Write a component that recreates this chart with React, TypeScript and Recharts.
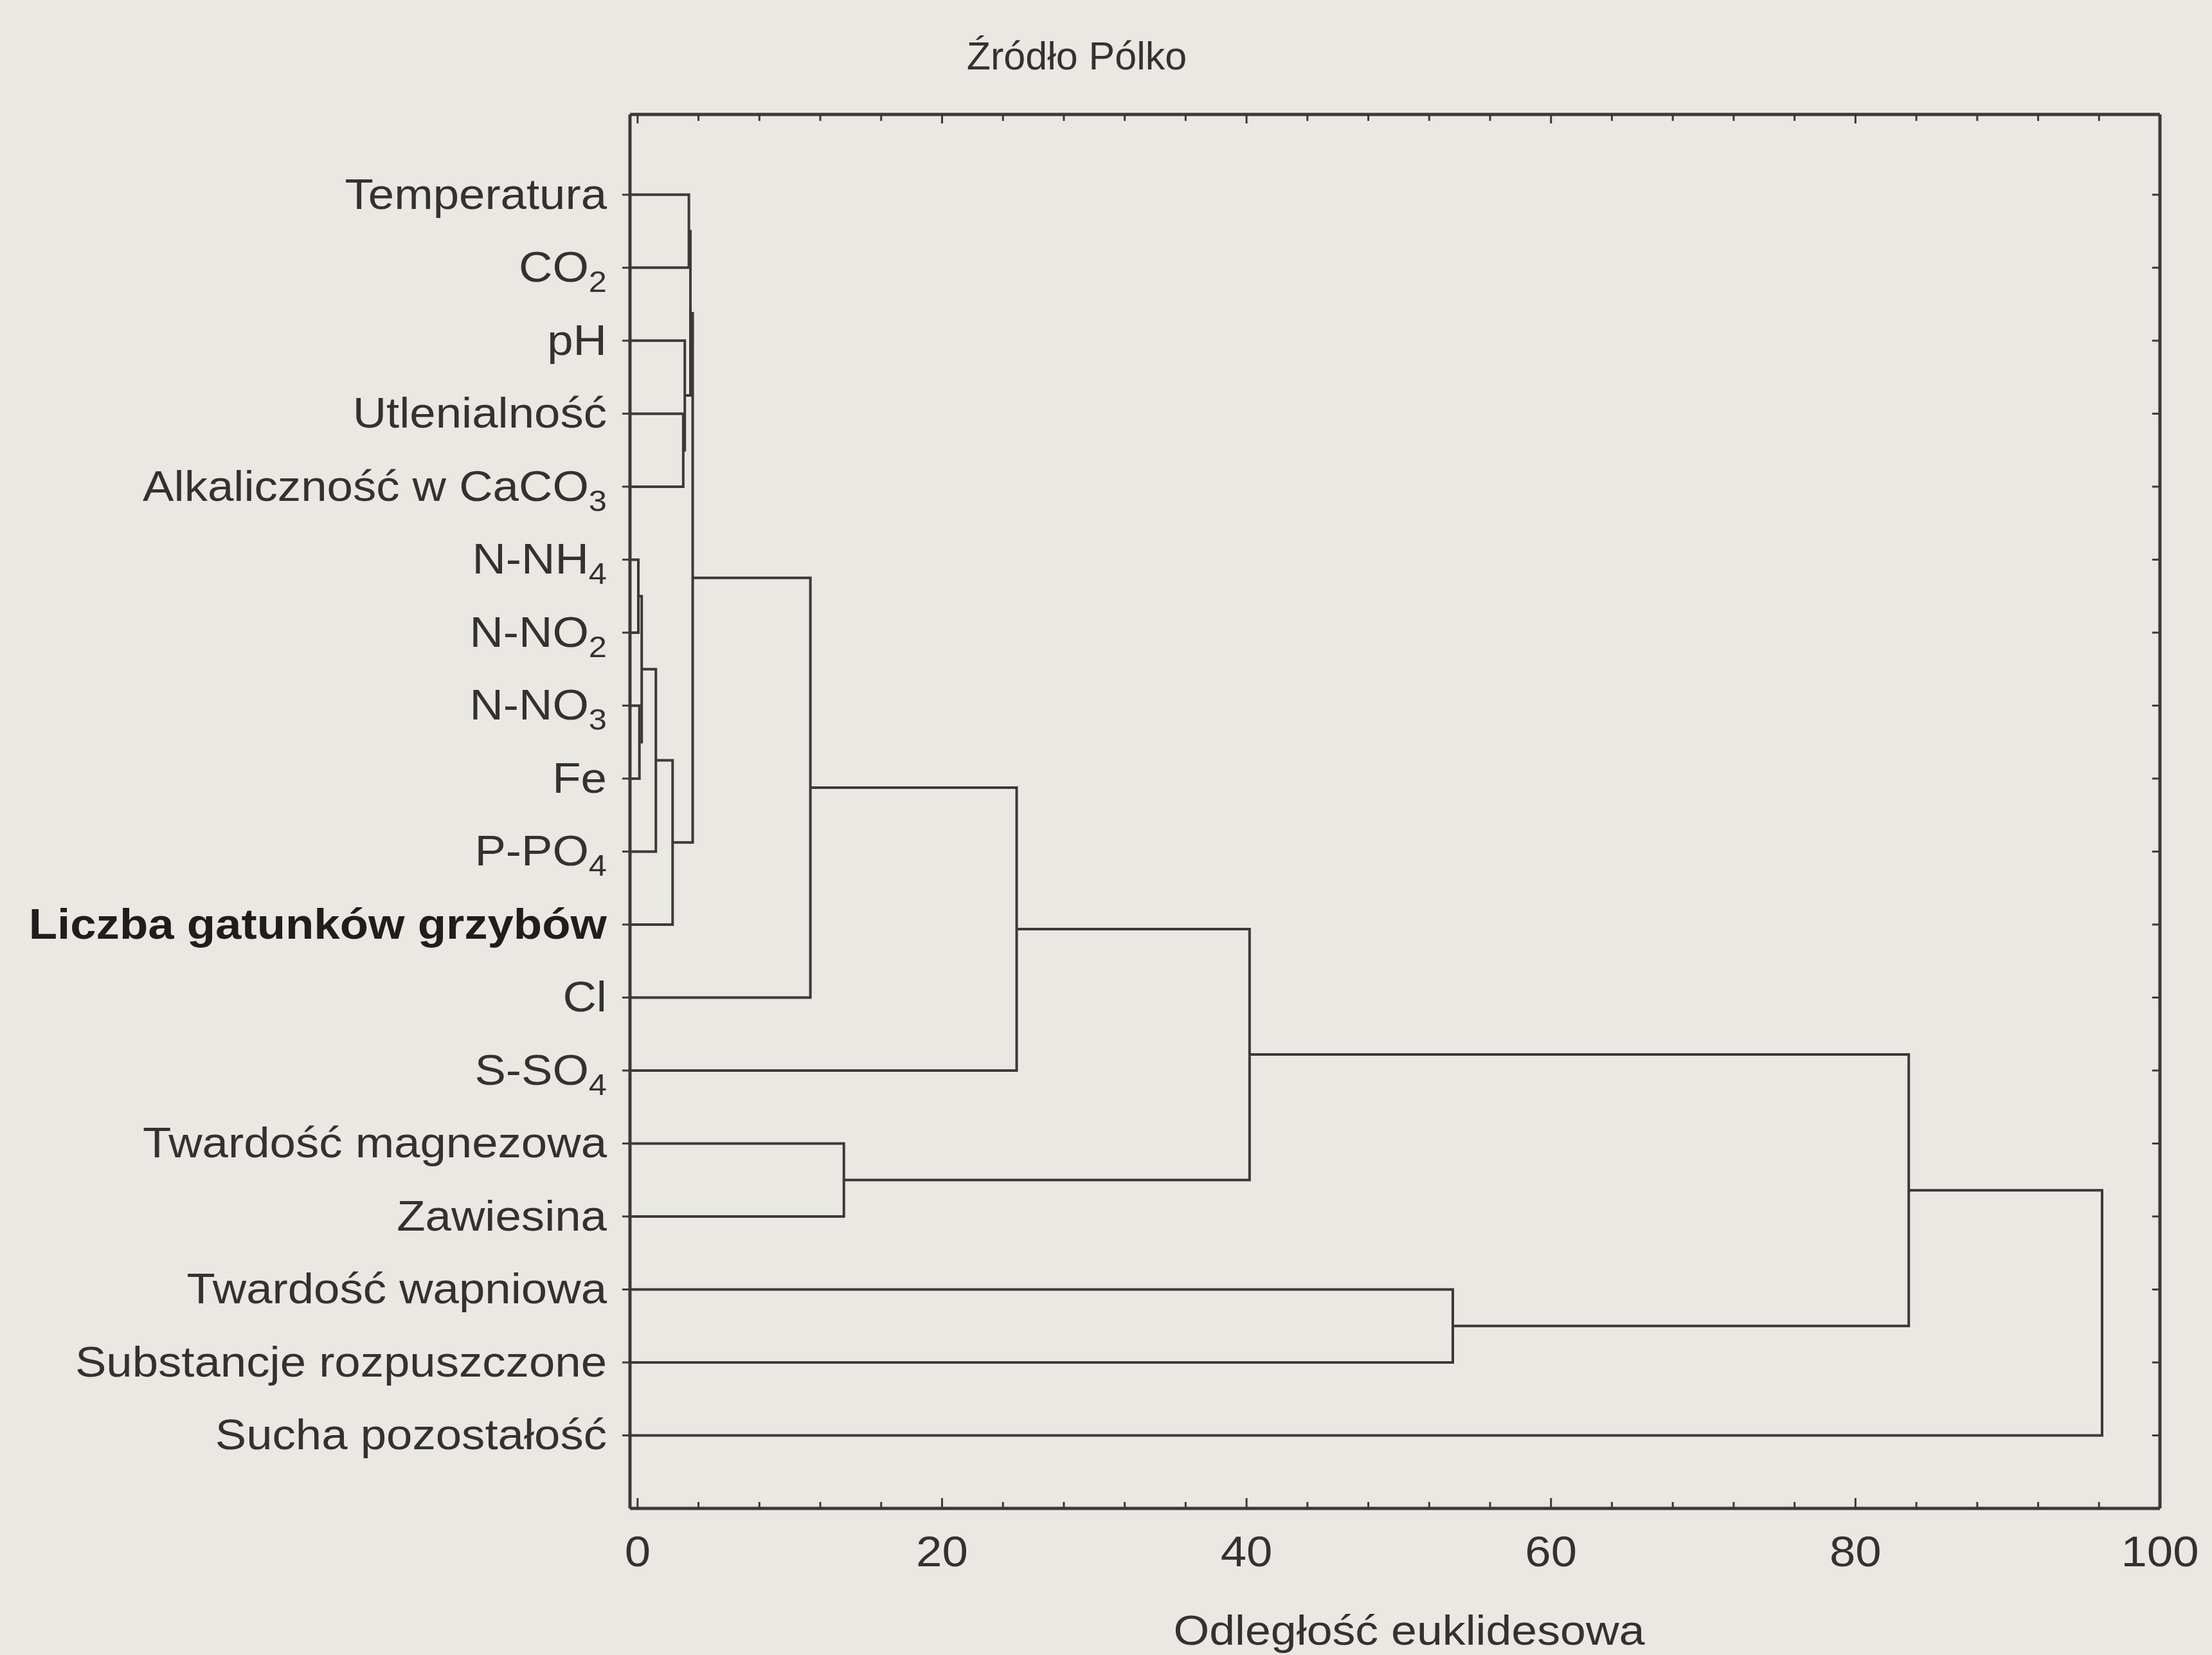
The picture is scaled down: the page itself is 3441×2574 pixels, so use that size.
import React from "react";
import { LineChart, Line, XAxis, YAxis } from "recharts";

// ---------- data ----------
const chartTitle = "Źródło Pólko";
const xAxisTitle = "Odległość euklidesowa";

// leaf labels, top to bottom ("_" marks a subscript)
const leafLabels = [
  "Temperatura",
  "CO_2",
  "pH",
  "Utlenialność",
  "Alkaliczność w CaCO_3",
  "N-NH_4",
  "N-NO_2",
  "N-NO_3",
  "Fe",
  "P-PO_4",
  "Liczba gatunków grzybów",
  "Cl",
  "S-SO_4",
  "Twardość magnezowa",
  "Zawiesina",
  "Twardość wapniowa",
  "Substancje rozpuszczone",
  "Sucha pozostałość",
];
const boldLeaf = "Liczba gatunków grzybów";
const leafTicks = [1, 2, 3, 4, 5, 6, 7, 8, 9, 10, 11, 12, 13, 14, 15, 16, 17, 18];

// linkage: ids 0..17 are leaves, 18+ are earlier merges (in order)
const mergeLeft = [3, 2, 0, 20, 5, 7, 22, 24, 25, 21, 27, 28, 13, 29, 15, 31, 33];
const mergeRight = [4, 18, 1, 19, 6, 8, 23, 9, 10, 26, 11, 12, 14, 30, 16, 32, 17];
const mergeHeight = [3.0, 3.1, 3.37, 3.47, 0.05, 0.12, 0.27, 1.2, 2.3, 3.62, 11.35, 24.9, 13.55, 40.2, 53.55, 83.5, 96.2];

const xDomain = [-0.5, 100];
const xTicks = [0, 4, 8, 12, 16, 20, 24, 28, 32, 36, 40, 44, 48, 52, 56, 60, 64, 68, 72, 76, 80, 84, 88, 92, 96, 100];
const xMajorTicks = [0, 20, 40, 60, 80, 100];
const xTickLabels = ["0", "20", "40", "60", "80", "100"];

// ---------- style ----------
const W = 3441;
const H = 2574;
const lineColor = "#3d3939";
const textColor = "#343131";
const bg = "#e9e8e3";
const font = "'Liberation Sans', Arial, Helvetica, sans-serif";

// ---------- build dendrogram polylines ----------
type Pt = { x: number; y: number };
const nodeX: number[] = [];
const nodeY: number[] = [];
leafLabels.forEach((_, i) => {
  nodeX.push(xDomain[0]); // leaf lines start at the left frame
  nodeY.push(i + 1);
});
const segments: Pt[][] = [];
mergeHeight.forEach((h, k) => {
  const a = mergeLeft[k];
  const b = mergeRight[k];
  segments.push([
    { x: nodeX[a], y: nodeY[a] },
    { x: h, y: nodeY[a] },
    { x: h, y: nodeY[b] },
    { x: nodeX[b], y: nodeY[b] },
  ]);
  nodeX.push(h);
  nodeY.push((nodeY[a] + nodeY[b]) / 2);
});

// ---------- ticks ----------
const BottomTick = (props: any) => {
  const { x, y, payload } = props;
  const v = payload.value;
  const mi = xMajorTicks.indexOf(v);
  const major = mi >= 0;
  return (
    <g>
      <line x1={x} x2={x} y1={y} y2={y - (major ? 16 : 10)} stroke={lineColor} strokeWidth={3} />
      {major && (
        <g transform={`translate(${x},${y + 90}) scale(1.1,1)`}>
          <text x={0} y={0} textAnchor="middle" fontFamily={font} fontSize={66} fill={textColor}>
            {xTickLabels[mi]}
          </text>
        </g>
      )}
    </g>
  );
};

const TopTick = (props: any) => {
  const { x, y, payload } = props;
  const major = xMajorTicks.indexOf(payload.value) >= 0;
  return <line x1={x} x2={x} y1={y} y2={y + (major ? 14 : 10)} stroke={lineColor} strokeWidth={3} />;
};

const RightTick = (props: any) => {
  const { x, y } = props;
  return <line x1={x} x2={x - 12} y1={y} y2={y} stroke={lineColor} strokeWidth={3} />;
};

const LeftTick = (props: any) => {
  const { x, y, payload } = props;
  const label = leafLabels[payload.value - 1];
  if (!label) return null;
  const parts = label.split("_");
  const bold = label === boldLeaf;
  return (
    <g transform={`translate(${x},${y + 22}) scale(1.1,1)`}>
      <text
        x={0}
        y={0}
        textAnchor="end"
        fontFamily={font}
        fontSize={66}
        fontWeight={bold ? 700 : 400}
        fill={bold ? "#1f1d1d" : textColor}
      >
        {parts[0]}
        {parts[1] && (
          <tspan fontSize={46} dy={16}>
            {parts[1]}
          </tspan>
        )}
      </text>
    </g>
  );
};

export default function App() {
  return (
    <div style={{ position: "absolute", left: 0, top: 0, width: W, height: H, background: bg, overflow: "hidden" }}>
      <LineChart width={W} height={H} margin={{ top: 0, right: 0, bottom: 0, left: 0 }}>
        <XAxis
          xAxisId="bottom"
          orientation="bottom"
          type="number"
          dataKey="x"
          domain={xDomain}
          allowDataOverflow
          ticks={xTicks}
          interval={0}
          height={228}
          tickSize={0}
          tickMargin={0}
          tickLine={false}
          tick={(p: any) => <BottomTick {...p} />}
          axisLine={{ stroke: lineColor, strokeWidth: 5 }}
        />
        <XAxis
          xAxisId="top"
          orientation="top"
          type="number"
          dataKey="x"
          domain={xDomain}
          allowDataOverflow
          ticks={xTicks}
          interval={0}
          height={178}
          tickSize={0}
          tickMargin={0}
          tickLine={false}
          tick={(p: any) => <TopTick {...p} />}
          axisLine={{ stroke: lineColor, strokeWidth: 5 }}
        />
        <YAxis
          yAxisId="left"
          orientation="left"
          type="number"
          domain={[-0.1, 19]}
          reversed
          allowDataOverflow
          ticks={leafTicks}
          interval={0}
          width={980}
          tickSize={12}
          tickMargin={24}
          tickLine={{ stroke: lineColor, strokeWidth: 3 }}
          tick={(p: any) => <LeftTick {...p} />}
          axisLine={{ stroke: lineColor, strokeWidth: 5 }}
        />
        <YAxis
          yAxisId="right"
          orientation="right"
          type="number"
          domain={[-0.1, 19]}
          reversed
          allowDataOverflow
          ticks={leafTicks}
          interval={0}
          width={81}
          tickSize={0}
          tickMargin={0}
          tickLine={false}
          tick={(p: any) => <RightTick {...p} />}
          axisLine={{ stroke: lineColor, strokeWidth: 5 }}
        />
        {segments.map((seg, i) => (
          <Line
            key={i}
            data={seg}
            xAxisId="bottom"
            yAxisId="left"
            dataKey="y"
            type="linear"
            stroke={lineColor}
            strokeWidth={4}
            strokeLinejoin="miter"
            dot={false}
            activeDot={false}
            isAnimationActive={false}
            legendType="none"
          />
        ))}
      </LineChart>
      <svg width={W} height={H} style={{ position: "absolute", left: 0, top: 0, pointerEvents: "none" }}>
        <text x={1675} y={108} textAnchor="middle" fontFamily={font} fontSize={61} fill={textColor}>
          {chartTitle}
        </text>
        <g transform="translate(2192,2558) scale(1.12,1)">
          <text x={0} y={0} textAnchor="middle" fontFamily={font} fontSize={64} fill={textColor}>
            {xAxisTitle}
          </text>
        </g>
      </svg>
    </div>
  );
}
